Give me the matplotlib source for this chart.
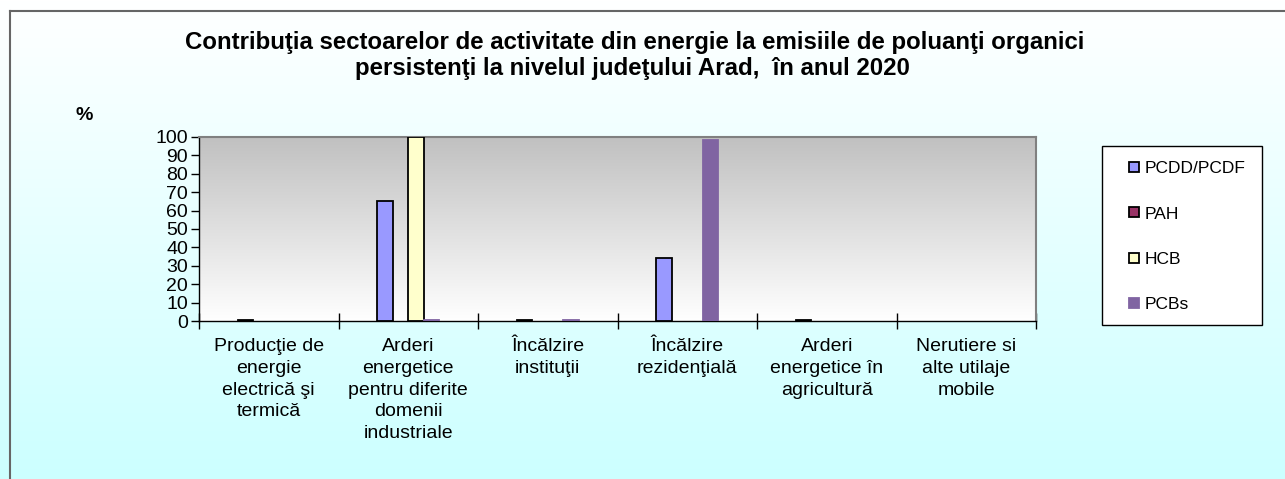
import numpy as np
import matplotlib
matplotlib.use("Agg")
import matplotlib.pyplot as plt
from matplotlib.lines import Line2D
from matplotlib.patches import Rectangle

plt.rcParams["font.family"] = ["Liberation Sans", "DejaVu Sans"]

# Data (% contribution)
categories = [
    "Producţie de\nenergie\nelectrică şi\ntermică",
    "Arderi\nenergetice\npentru diferite\ndomenii\nindustriale",
    "Încălzire\ninstituţii",
    "Încălzire\nrezidenţială",
    "Arderi\nenergetice în\nagricultură",
    "Nerutiere si\nalte utilaje\nmobile",
]
series_names = ["PCDD/PCDF", "PAH", "HCB", "PCBs"]
pcdd = [0.4, 65.2, 0.4, 34.5, 0.4, 0.0]
pah = [0.0, 0.0, 0.0, 0.0, 0.0, 0.0]
hcb = [0.0, 100.0, 0.0, 0.0, 0.0, 0.0]
pcbs = [0.0, 0.5, 0.3, 98.4, 0.0, 0.0]

colors = ["#9999FF", "#993366", "#FFFFCC", "#8064A2"]
edges = ["black", "black", "black", "#8064A2"]

W, H = 1285, 479
fig = plt.figure(figsize=(W / 100, H / 100), dpi=100)

# figure background gradient (white -> light cyan)
bg = fig.add_axes([0, 0, 1, 1], zorder=-10)
grad = np.linspace(0, 1, 256).reshape(-1, 1)
top_c = np.array([1.0, 1.0, 1.0])
bot_c = np.array([204, 255, 255]) / 255
img = top_c + (bot_c - top_c) * grad[..., None]
bg.imshow(img, aspect="auto", extent=[0, 1, 0, 1])
bg.axis("off")

# outer frame (top and left only visible)
fig.add_artist(Line2D([10 / W, 1], [1 - 11 / H] * 2, color="#666666", lw=1.5, transform=fig.transFigure))
fig.add_artist(Line2D([10 / W] * 2, [0, 1 - 11 / H], color="#666666", lw=1.5, transform=fig.transFigure))

ax = fig.add_axes([199 / W, 1 - 321 / H, (1036 - 199) / W, (321 - 137) / H])

# plot area gradient (gray -> white)
pgrad = np.linspace(0, 1, 256).reshape(-1, 1)
ptop = np.array([192, 192, 192]) / 255
pbot = np.array([1.0, 1.0, 1.0])
pimg = ptop + (pbot - ptop) * pgrad[..., None]
ax.imshow(pimg, aspect="auto", extent=[0, 1, 0, 1], transform=ax.transAxes, zorder=0)

x = np.arange(len(categories))
w = 0.112
all_series = [pcdd, pah, hcb, pcbs]
for k, vals in enumerate(all_series):
    lws = [1.3 if v > 0 else 0 for v in vals]
    ax.bar(x + (k - 1.5) * w, vals, width=w, color=colors[k], edgecolor=edges[k],
           linewidth=lws, label=series_names[k], zorder=3)

ax.set_xlim(-0.5, 5.5)
ax.set_ylim(0, 100)
ax.set_yticks(range(0, 101, 10))
ax.tick_params(axis="y", direction="out", length=6, width=1, labelsize=14, pad=2)

ax.set_xticks(np.arange(-0.5, 6.0, 1.0))
ax.set_xticklabels([])
ax.tick_params(axis="x", which="major", direction="inout", length=12, width=1)
ax.set_xticks(x, minor=True)
ax.set_xticklabels(categories, minor=True, fontsize=14, linespacing=1.38)
ax.tick_params(axis="x", which="minor", length=0, pad=12)

for side in ["top", "right"]:
    ax.spines[side].set_color("#808080")
    ax.spines[side].set_linewidth(1.5)
for side in ["left", "bottom"]:
    ax.spines[side].set_color("black")
    ax.spines[side].set_linewidth(1)

fig.text(0.494, 1 - 43 / H, "Contribuţia sectoarelor de activitate din energie la emisiile de poluanţi organici",
         ha="center", va="center", fontsize=17.3, fontweight="bold")
fig.text(0.492, 1 - 69 / H, "persistenţi la nivelul judeţului Arad,  în anul 2020",
         ha="center", va="center", fontsize=17.3, fontweight="bold")
fig.text(84 / W, 1 - 115 / H, "%", ha="center", va="center", fontsize=14, fontweight="bold")

# legend box drawn separately, entries placed inside
fig.add_artist(Rectangle((1102 / W, 1 - 325 / H), (1262 - 1102) / W, (325 - 146) / H,
                         transform=fig.transFigure, facecolor="white", edgecolor="black",
                         linewidth=1, zorder=4))
handles = [Line2D([], [], linestyle="none", marker="s", markersize=6.5,
                  markerfacecolor=colors[k], markeredgecolor=edges[k], markeredgewidth=1.3)
           for k in range(4)]
leg = fig.legend(handles, series_names, loc="upper left",
                 bbox_to_anchor=(1125 / W, 1 - 161 / H),
                 fontsize=12.5, frameon=False, handlelength=1.0,
                 handletextpad=0.15, labelspacing=1.74,
                 borderpad=0, borderaxespad=0)
leg.set_zorder(5)

fig.savefig("out.png", dpi=100)
